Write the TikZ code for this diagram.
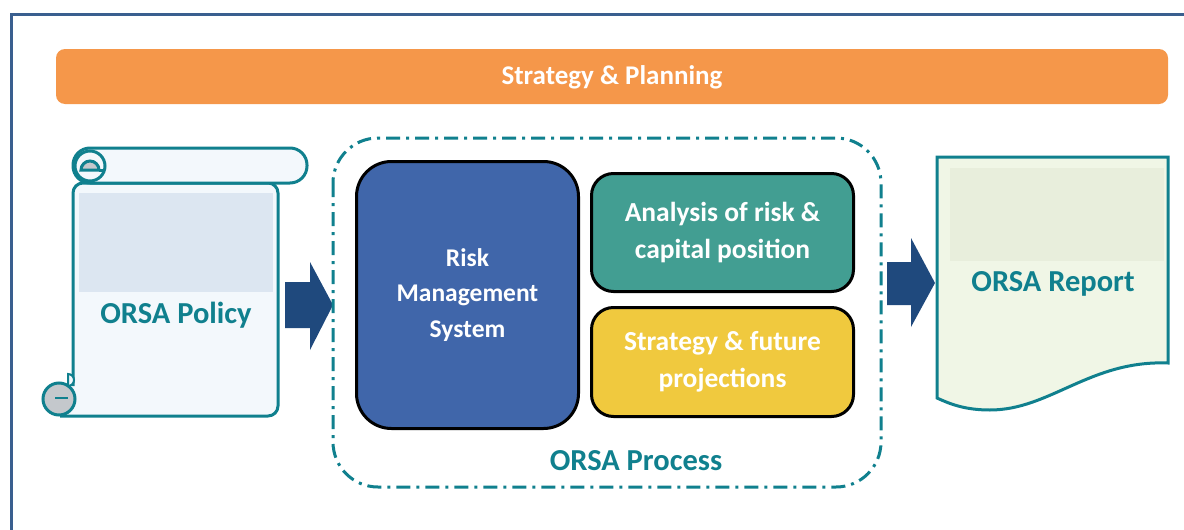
\documentclass[tikz,border=0pt]{standalone}
\usepackage{fontspec}
\setmainfont{Carlito}
\usetikzlibrary{positioning}

\definecolor{frameblue}{HTML}{3A5F8F}
\definecolor{barorange}{HTML}{F5974A}
\definecolor{orsateal}{HTML}{10808E}
\definecolor{arrowblue}{HTML}{1F497D}
\definecolor{rmsblue}{HTML}{4066AA}
\definecolor{riskgreen}{HTML}{429E92}
\definecolor{futureyellow}{HTML}{F0C93E}
\definecolor{scrollfill}{HTML}{F3F8FC}
\definecolor{scrollband}{HTML}{DCE6F1}
\definecolor{curlgray}{HTML}{C4C8CC}
\definecolor{docfill}{HTML}{F0F6E6}
\definecolor{docband}{HTML}{E8EEDC}

\tikzset{
  stepbox/.style={draw=black, line width=3pt, text=white, align=center,
    font=\bfseries\fontsize{27.5}{37}\selectfont},
  orsatitle/.style={text=orsateal, font=\bfseries\fontsize{30.5}{34}\selectfont},
  tealline/.style={draw=orsateal, line width=3pt},
  blockarrow/.style={fill=arrowblue}
}

\begin{document}
\begin{tikzpicture}[x=1pt,y=-1pt]
    \useasboundingbox (0,0) rectangle (1184,530);
    % frame
    \draw[frameblue, line width=3pt] (11,540) -- (11,14) -- (1190,14);

    % strategy bar
    \fill[barorange, rounded corners=9pt] (56,49) rectangle (1168,104);
    \node[text=white, font=\bfseries\fontsize{27}{30}\selectfont] (plan) at (612,77) {Strategy \& Planning};

    % policy scroll
    \filldraw[tealline, fill=scrollfill, rounded corners=10pt]
        (60,416) -- (278,416) -- (278,183) -- (73,183) -- (73,386);
    \fill[scrollband] (79,193) rectangle (273,292);
    \filldraw[tealline, fill=scrollfill, rounded corners=17pt] (73,148) rectangle (307,183);
    \draw[tealline] (90,166) circle (15);
    \filldraw[tealline, fill=curlgray] (81,170) arc (180:360:9) -- cycle;
    \draw[tealline] (99,170) -- (104,170);
    \filldraw[tealline, fill=curlgray] (59,399) circle (16);
    \filldraw[tealline, fill=scrollfill, line width=2pt] (68,386) arc (90:-90:6) -- cycle;
    \draw[tealline, line width=2pt] (55,398) -- (68,398);
    \node[orsatitle] (policy) at (176,315) {ORSA Policy};

    % arrow into process
    \fill[blockarrow] (285,282) -- (310,282) -- (310,262) -- (333,305)
        -- (310,350) -- (310,328) -- (285,328) -- cycle;

    % process
    \draw[orsateal, line width=3pt, rounded corners=45pt,
        dash pattern=on 14pt off 6pt on 3pt off 6pt] (333,138) rectangle (881,487);
    \node[stepbox, fill=rmsblue, rounded corners=35pt, minimum width=222pt,
        minimum height=267pt, font=\bfseries\fontsize{25.5}{35.5}\selectfont]
        (rms) at (467.5,295) {Risk\\Management\\System};
    \node[stepbox, fill=riskgreen, rounded corners=22pt, minimum width=262pt,
        minimum height=118pt] (risk) at (722.5,232.5) {Analysis of risk \&\\capital position};
    \node[stepbox, fill=futureyellow, rounded corners=22pt, minimum width=262pt,
        minimum height=109pt] (future) at (722.5,362) {Strategy \& future\\projections};
    \node[orsatitle] (process) at (636,461) {ORSA Process};

    % arrow into report
    \fill[blockarrow] (887,262) -- (911,262) -- (911,238) -- (935,283)
        -- (911,327) -- (911,305) -- (887,305) -- cycle;

    % report
    \filldraw[tealline, fill=docfill] (937,157) -- (1168,157) -- (1168,363)
        .. controls (1090,360) and (1050,410) .. (990,410)
        .. controls (965,410) and (950,404) .. (937,398) -- cycle;
    \fill[docband] (950,168) rectangle (1164,261);
    \node[orsatitle] (report) at (1053,284) {ORSA Report};
\end{tikzpicture}
\end{document}
